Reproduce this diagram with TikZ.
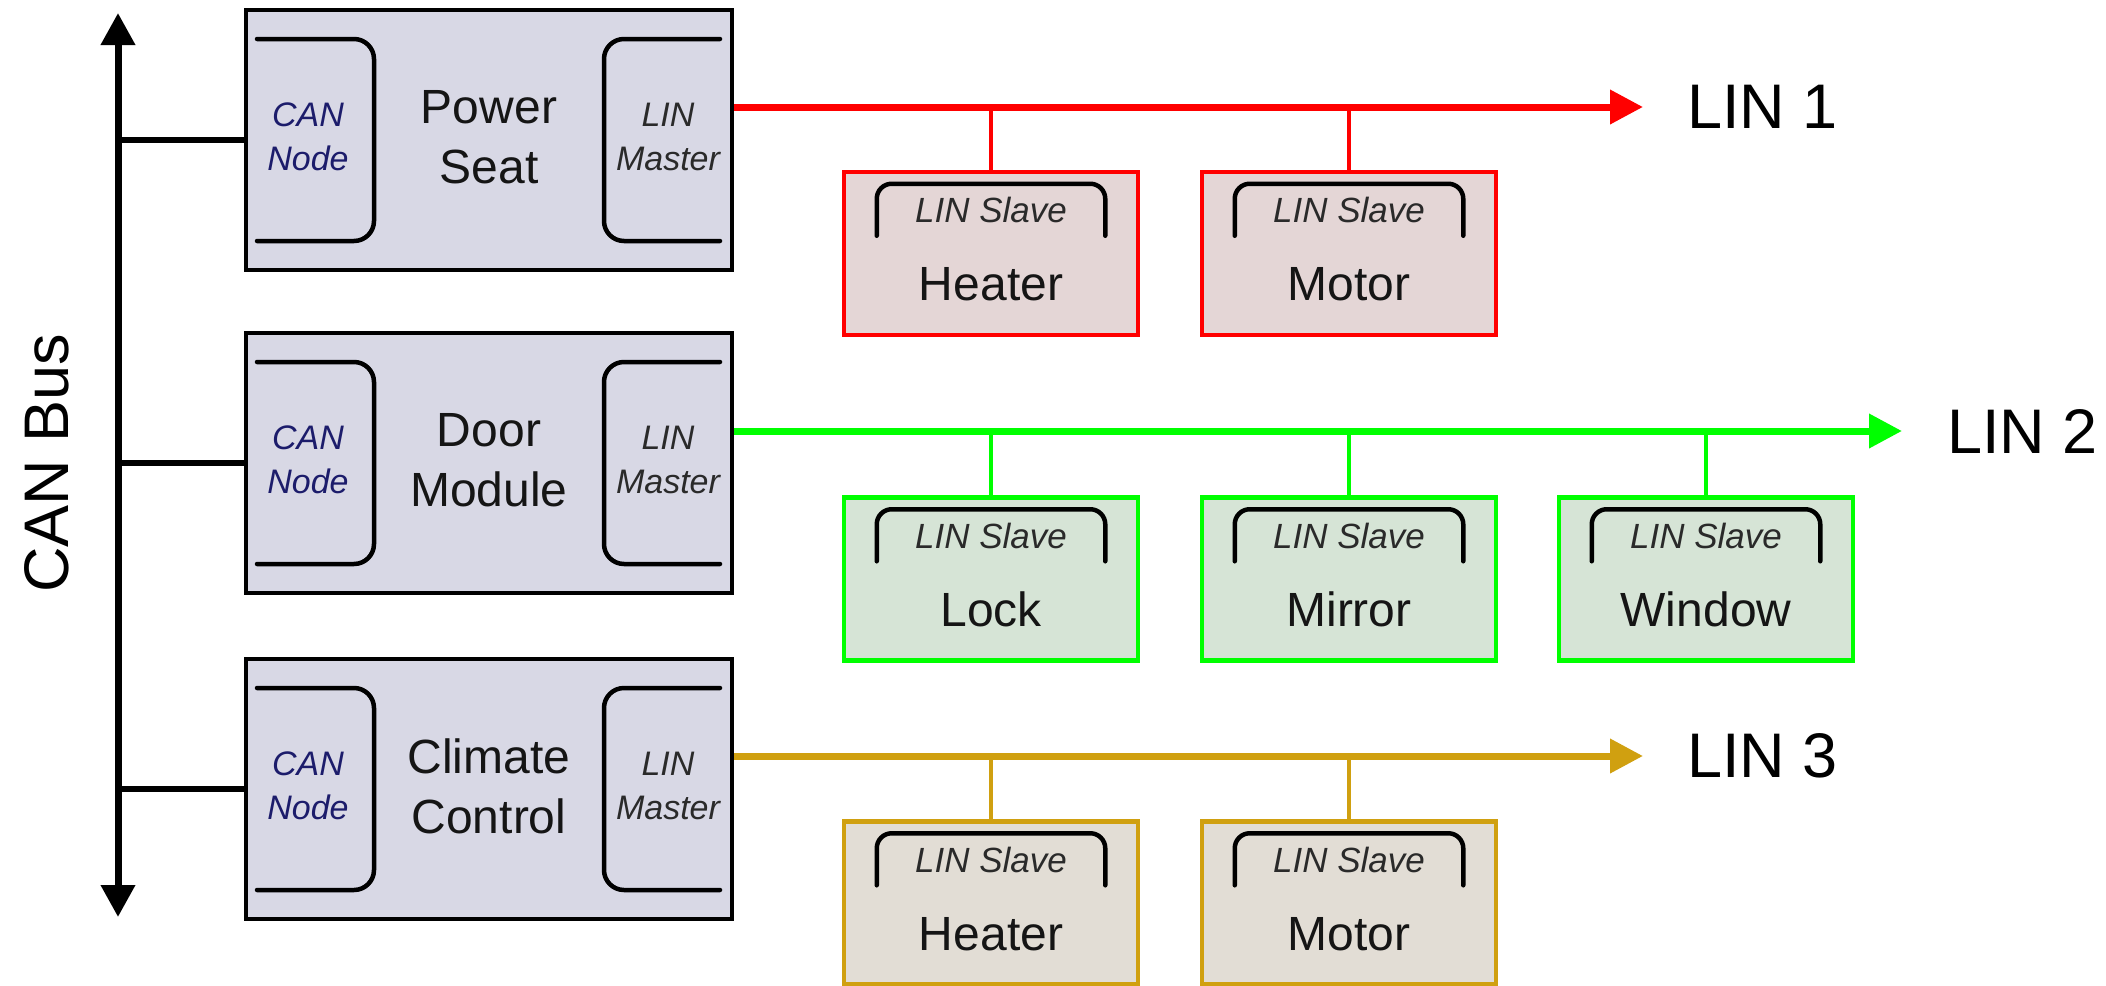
\documentclass[tikz,border=0pt]{standalone}
\usepackage{fontspec}
\setmainfont{Liberation Sans}
\usetikzlibrary{arrows.meta,calc}
\definecolor{masterfill}{HTML}{D8D8E5}
\definecolor{redline}{HTML}{FF0000}
\definecolor{redfill}{HTML}{E4D6D6}
\definecolor{greenline}{HTML}{00FF00}
\definecolor{greenfill}{HTML}{D6E4D6}
\definecolor{goldline}{HTML}{D0A010}
\definecolor{goldfill}{HTML}{E2DDD5}
\definecolor{navytxt}{HTML}{1C1C6B}
\definecolor{greytxt}{HTML}{2A2A2A}
\definecolor{maintxt}{HTML}{151515}
\newcommand{\linslave}[5]{%
  \node[slavebox,#4] (#1) at (#2,#3) {};
  \node[slavelbl] (#1l) at ($(#1.north)+(0,53)$) {LIN Slave};
  \node[slavename] (#1n) at ($(#1.north)+(0,131)$) {#5};
  \draw[bracket,rounded corners=15pt] ($(#1.north west)+(35,66)$) |- ($(#1.north east)+(-35,14)$) -- ($(#1.north east)+(-35,66)$);
}
\newcommand{\ecu}[5]{%
  \node[master] (#1) at (#2,#3) {};
  \node[bigtxt] (#1t) at ($(#1)+(0,-3)$) {#4\\#5};
  \node[cantxt] (#1c) at ($(#1.west)+(64,-3)$) {CAN\\Node};
  \node[mastxt] (#1m) at ($(#1.east)+(-66,-3)$) {LIN\\Master};
  \draw[bracket,rounded corners=20pt] ($(#1.north west)+(13,31)$) -| ($(#1.south west)+(130,-31)$) -- ($(#1.south west)+(13,-31)$);
  \draw[bracket,rounded corners=20pt] ($(#1.north east)+(-14,31)$) -| ($(#1.south east)+(-130,-31)$) -- ($(#1.south east)+(-14,-31)$);
}
\begin{document}
\begin{tikzpicture}[x=1pt,y=-1pt,
  master/.style={draw=black, line width=4pt, fill=masterfill, minimum width=486pt, minimum height=260pt, inner sep=0pt},
  slavebox/.style={line width=4.5pt, minimum width=294pt, minimum height=163pt, inner sep=0pt},
  redslave/.style={draw=redline, fill=redfill},
  greenslave/.style={draw=greenline, fill=greenfill},
  goldslave/.style={draw=goldline, fill=goldfill},
  bigtxt/.style={font=\fontsize{48}{60}\selectfont, text=maintxt, align=center, inner sep=0pt},
  cantxt/.style={font=\fontsize{34}{44}\selectfont\itshape, text=navytxt, align=center, inner sep=0pt},
  mastxt/.style={font=\fontsize{34}{44}\selectfont\itshape, text=greytxt, align=center, inner sep=0pt},
  slavelbl/.style={font=\fontsize{35}{42}\selectfont\itshape, text=greytxt, anchor=base, inner sep=0pt},
  slavename/.style={font=\fontsize{48}{58}\selectfont, text=maintxt, anchor=base, inner sep=0pt},
  lintxt/.style={font=\fontsize{63}{75}\selectfont, text=black, anchor=west, inner sep=0pt},
  bracket/.style={draw=black, line width=4.5pt, line cap=round},
  canline/.style={draw=black, line width=7pt},
  stub/.style={draw=black, line width=5.5pt},
  linbus/.style={line width=7pt, -{Triangle[length=33pt,width=33pt]}},
  conn/.style={line width=4.5pt}
]
\useasboundingbox (0,0) rectangle (2106,985);

% CAN bus
\coordinate (cant) at (118,13);
\coordinate (canb) at (118,917);
\draw[canline, {Triangle[length=32pt,width=33pt]}-{Triangle[length=32pt,width=33pt]}] (cant) -- (canb);
\node[font=\fontsize{63}{75}\selectfont, rotate=90, inner sep=0pt] (canlbl) at (47,463) {CAN Bus};

% ECUs
\ecu{ps}{489}{140}{Power}{Seat}
\ecu{dm}{489}{463}{Door}{Module}
\ecu{cc}{489}{789}{Climate}{Control}

\draw[stub] (ps.west) -- (ps.west -| cant);
\draw[stub] (dm.west) -- (dm.west -| cant);
\draw[stub] (cc.west) -- (cc.west -| cant);

% LIN buses
\coordinate (l1s) at ([yshift=33pt]ps.east);
\coordinate (l2s) at ([yshift=32pt]dm.east);
\coordinate (l3s) at ([yshift=33pt]cc.east);
\coordinate (l1e) at ($(l1s)+(909,0)$);
\coordinate (l2e) at ($(l2s)+(1168,0)$);
\coordinate (l3e) at ($(l3s)+(909,0)$);

% slaves
\linslave{ha}{991}{253.5}{redslave}{Heater}
\linslave{ma}{1349}{253.5}{redslave}{Motor}
\linslave{lk}{991}{579}{greenslave}{Lock}
\linslave{mr}{1349}{579}{greenslave}{Mirror}
\linslave{wn}{1706}{579}{greenslave}{Window}
\linslave{hc}{991}{903}{goldslave}{Heater}
\linslave{mc}{1349}{903}{goldslave}{Motor}

\draw[conn, redline] (ha.north) -- (ha.north |- l1s);
\draw[conn, redline] (ma.north) -- (ma.north |- l1s);
\draw[conn, greenline] (lk.north) -- (lk.north |- l2s);
\draw[conn, greenline] (mr.north) -- (mr.north |- l2s);
\draw[conn, greenline] (wn.north) -- (wn.north |- l2s);
\draw[conn, goldline] (hc.north) -- (hc.north |- l3s);
\draw[conn, goldline] (mc.north) -- (mc.north |- l3s);

\draw[linbus, redline] (l1s) -- (l1e);
\draw[linbus, greenline] (l2s) -- (l2e);
\draw[linbus, goldline] (l3s) -- (l3e);

\node[lintxt] (lin1) at ($(l1e)+(44,0)$) {LIN 1};
\node[lintxt] (lin2) at ($(l2e)+(45,0)$) {LIN 2};
\node[lintxt] (lin3) at ($(l3e)+(44,0)$) {LIN 3};
\end{tikzpicture}
\end{document}
